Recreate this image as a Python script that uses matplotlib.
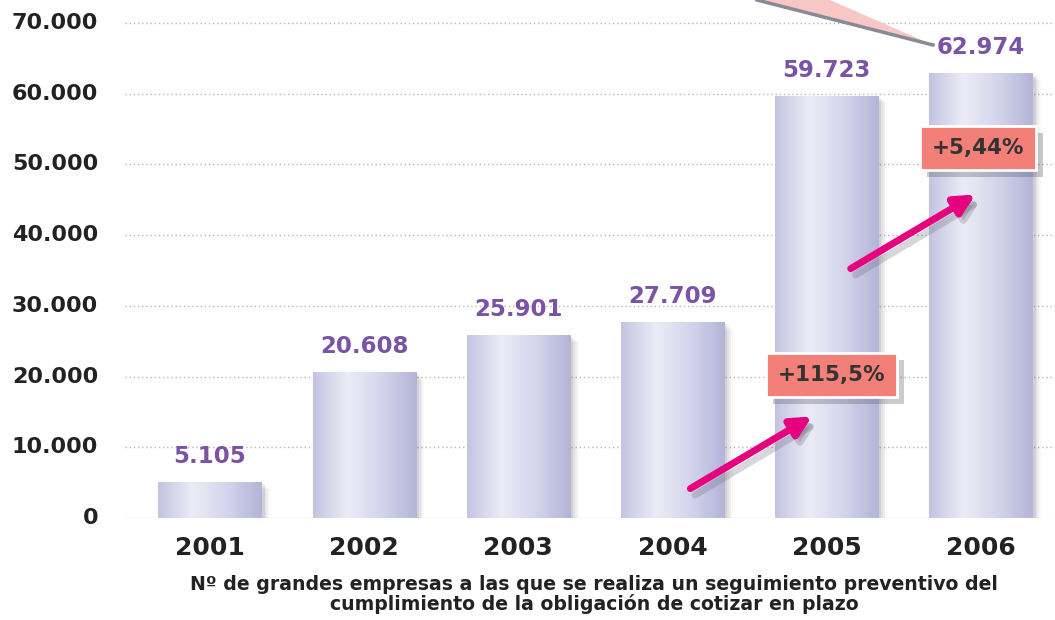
import matplotlib.pyplot as plt
import numpy as np
from matplotlib.patches import Rectangle, Polygon, FancyArrowPatch
from matplotlib.colors import LinearSegmentedColormap
import matplotlib.patheffects as pe

years = ['2001', '2002', '2003', '2004', '2005', '2006']
empresas = [5105, 20608, 25901, 27709, 59723, 62974]
value_labels = ['5.105', '20.608', '25.901', '27.709', '59.723', '62.974']
yticks = [0, 10000, 20000, 30000, 40000, 50000, 60000, 70000]
ytick_labels = ['0', '10.000', '20.000', '30.000', '40.000', '50.000', '60.000', '70.000']
growth_labels = ['+115,5%', '+5,44%']
caption = ('Nº de grandes empresas a las que se realiza un seguimiento preventivo del\n'
           'cumplimiento de la obligación de cotizar en plazo')

plt.rcParams['font.family'] = ['DejaVu Sans']
plt.rcParams['font.weight'] = 'bold'

fig = plt.figure(figsize=(10.55, 6.2), dpi=100)
ax = fig.add_axes([125 / 1055, 102 / 620, 930 / 1055, 518 / 620])
ax.set_xlim(-0.551, 5.48)
ax.set_ylim(0, 73260)
for s in ax.spines.values():
    s.set_visible(False)
ax.set_xticks([])
ax.set_yticks([])

# dotted grid and y labels
for v, lab in zip(yticks, ytick_labels):
    ax.axhline(v, color='#b8b8b8', lw=1.0, ls=(0, (1, 2)), zorder=0)
    ax.text(-0.029, v, lab, transform=ax.get_yaxis_transform(),
            ha='right', va='center', fontsize=16, fontweight='bold', color='#222222')

# bar gradient: darker at the edges, light in the middle
bar_cmap = LinearSegmentedColormap.from_list('lav', ['#c4c4e2', '#ececf7', '#d4d4ec', '#b4b4d8'])
grad = np.linspace(0, 1, 256).reshape(1, -1)
w = 0.668
x = np.arange(len(years))
for xi, val in zip(x, empresas):
    # soft shadow
    for k, a in enumerate([0.10, 0.08, 0.06, 0.04]):
        dx = 0.02 + 0.012 * k
        dy = 300 + 250 * k
        ax.add_patch(Rectangle((xi - w / 2 + dx, -dy), w, val, color='#505060',
                               alpha=a, lw=0, zorder=1))
    im = ax.imshow(grad, cmap=bar_cmap, aspect='auto', zorder=2,
                   extent=[xi - w / 2, xi + w / 2, 0, val])
    clip = Rectangle((xi - w / 2, 0), w, val, transform=ax.transData)
    im.set_clip_path(clip)

ax.set_xlim(-0.551, 5.48)
ax.set_ylim(0, 73260)

for xi, val, lab in zip(x, empresas, value_labels):
    ax.annotate(lab, (xi, val), xytext=(0, 10), textcoords='offset points',
                ha='center', va='bottom', fontsize=16.5, fontweight='bold', color='#7a52a6')

for xi, yr in zip(x, years):
    ax.text(xi, -4200, yr, ha='center', va='center', fontsize=18,
            fontweight='bold', color='#222222', clip_on=False)

fig.text(594 / 1055, 1 - 595 / 620, caption, ha='center', va='center',
         fontsize=13.6, fontweight='bold', color='#222222', linespacing=1.0)

# growth arrows
arrows = [((3.10, 3960), (3.92, 14570)), ((4.14, 35070), (4.98, 45960))]
for (x0, y0), (x1, y1) in arrows:
    sh = FancyArrowPatch((x0 + 0.03, y0 - 900), (x1 + 0.03, y1 - 900), arrowstyle='-|>',
                         mutation_scale=30, lw=5, color='#606070', alpha=0.25, zorder=4)
    ax.add_patch(sh)
    ar = FancyArrowPatch((x0, y0), (x1, y1), arrowstyle='-|>', mutation_scale=30,
                         lw=5, color='#e6007e', zorder=5)
    ax.add_patch(ar)

# percentage boxes with a drop shadow
boxes = [(4.03, 20220), (4.98, 52330)]
for (bx, by), lab in zip(boxes, growth_labels):
    t = ax.text(bx, by, lab, ha='center', va='center', fontsize=15.5, fontweight='bold',
                color='#333333', zorder=6,
                bbox=dict(boxstyle='square,pad=0.55', fc='#f28079', ec='white', lw=2))
    t.get_bbox_patch().set_path_effects([
        pe.SimplePatchShadow(offset=(5, -5), shadow_rgbFace='#505060', alpha=0.3),
        pe.Normal()])

# callout pointer coming in from above
fig.patches.append(Polygon([(757 / 1055, 1.0), (830 / 1055, 1.0), (933 / 1055, 1 - 45 / 620)],
                           closed=True, transform=fig.transFigure, fc='#f7c6c6', ec='none'))
fig.lines.append(plt.Line2D([757 / 1055, 933 / 1055], [1.0, 1 - 45 / 620],
                            transform=fig.transFigure, color='#8a8a96', lw=2.5))

fig.savefig('out.png', dpi=100)
